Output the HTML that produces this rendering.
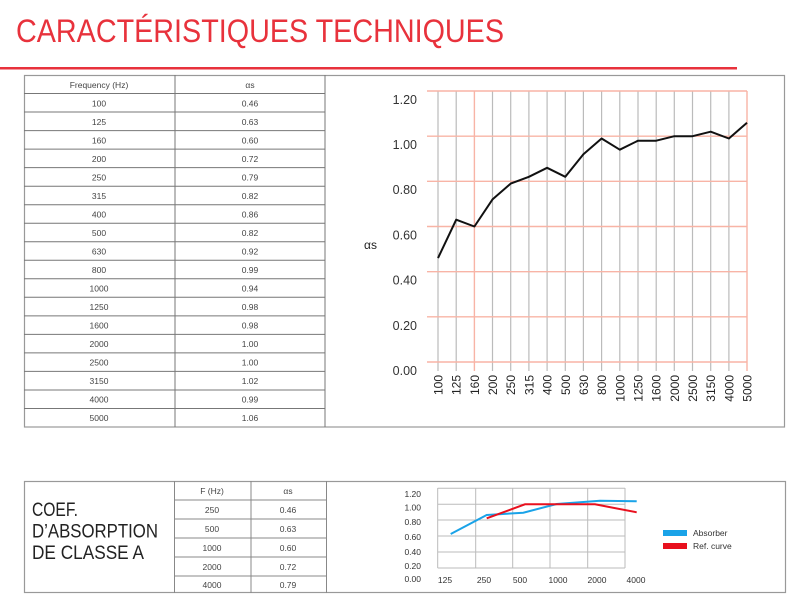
<!DOCTYPE html>
<html><head><meta charset="utf-8"><style>
html,body{margin:0;padding:0;background:#fff;}
svg{display:block;font-family:"Liberation Sans",sans-serif;}
</style></head><body>
<svg width="800" height="600" viewBox="0 0 800 600" xmlns="http://www.w3.org/2000/svg">
<text x="16" y="42" font-size="32" fill="#e8323c" textLength="488" lengthAdjust="spacingAndGlyphs">CARACTÉRISTIQUES TECHNIQUES</text>
<rect x="0" y="67" width="737" height="2.5" fill="#e8323c"/>

<!-- top box -->
<rect x="24.5" y="75.5" width="760" height="351.5" fill="none" stroke="#999" stroke-width="1.2"/>
<g stroke="#777" stroke-width="1">
<line x1="175" y1="75" x2="175" y2="427"/><line x1="325" y1="75" x2="325" y2="427"/>
<line x1="24" y1="93.5" x2="325" y2="93.5"/><line x1="24" y1="112" x2="325" y2="112"/>
<line x1="24" y1="130.6" x2="325" y2="130.6"/><line x1="24" y1="149.1" x2="325" y2="149.1"/>
<line x1="24" y1="167.6" x2="325" y2="167.6"/><line x1="24" y1="186.2" x2="325" y2="186.2"/>
<line x1="24" y1="204.7" x2="325" y2="204.7"/><line x1="24" y1="223.2" x2="325" y2="223.2"/>
<line x1="24" y1="241.7" x2="325" y2="241.7"/><line x1="24" y1="260.3" x2="325" y2="260.3"/>
<line x1="24" y1="278.8" x2="325" y2="278.8"/><line x1="24" y1="297.3" x2="325" y2="297.3"/>
<line x1="24" y1="315.9" x2="325" y2="315.9"/><line x1="24" y1="334.4" x2="325" y2="334.4"/>
<line x1="24" y1="352.9" x2="325" y2="352.9"/><line x1="24" y1="371.4" x2="325" y2="371.4"/>
<line x1="24" y1="390" x2="325" y2="390"/><line x1="24" y1="408.5" x2="325" y2="408.5"/>
</g>
<g font-size="8.5" fill="#444" text-anchor="middle">
<text x="99" y="88">Frequency (Hz)</text><text x="250" y="88">αs</text>
<text x="99" y="106.5">100</text><text x="250" y="106.5">0.46</text>
<text x="99" y="125">125</text><text x="250" y="125">0.63</text>
<text x="99" y="143.5">160</text><text x="250" y="143.5">0.60</text>
<text x="99" y="162">200</text><text x="250" y="162">0.72</text>
<text x="99" y="180.5">250</text><text x="250" y="180.5">0.79</text>
<text x="99" y="199">315</text><text x="250" y="199">0.82</text>
<text x="99" y="217.5">400</text><text x="250" y="217.5">0.86</text>
<text x="99" y="236">500</text><text x="250" y="236">0.82</text>
<text x="99" y="254.5">630</text><text x="250" y="254.5">0.92</text>
<text x="99" y="273">800</text><text x="250" y="273">0.99</text>
<text x="99" y="291.5">1000</text><text x="250" y="291.5">0.94</text>
<text x="99" y="310">1250</text><text x="250" y="310">0.98</text>
<text x="99" y="328.5">1600</text><text x="250" y="328.5">0.98</text>
<text x="99" y="347">2000</text><text x="250" y="347">1.00</text>
<text x="99" y="365.5">2500</text><text x="250" y="365.5">1.00</text>
<text x="99" y="384">3150</text><text x="250" y="384">1.02</text>
<text x="99" y="402.5">4000</text><text x="250" y="402.5">0.99</text>
<text x="99" y="421">5000</text><text x="250" y="421">1.06</text>
</g>

<!-- top chart -->
<g stroke="#bbb" stroke-width="1.2">
<line x1="438" y1="91" x2="438" y2="371"/><line x1="456.2" y1="91" x2="456.2" y2="371"/>
<line x1="492.5" y1="91" x2="492.5" y2="371"/><line x1="510.7" y1="91" x2="510.7" y2="371"/>
<line x1="528.9" y1="91" x2="528.9" y2="371"/><line x1="547.1" y1="91" x2="547.1" y2="371"/>
<line x1="565.3" y1="91" x2="565.3" y2="371"/><line x1="583.4" y1="91" x2="583.4" y2="371"/>
<line x1="601.6" y1="91" x2="601.6" y2="371"/><line x1="619.8" y1="91" x2="619.8" y2="371"/>
<line x1="638" y1="91" x2="638" y2="371"/><line x1="656.2" y1="91" x2="656.2" y2="371"/>
<line x1="674.3" y1="91" x2="674.3" y2="371"/><line x1="692.5" y1="91" x2="692.5" y2="371"/>
<line x1="710.7" y1="91" x2="710.7" y2="371"/><line x1="728.9" y1="91" x2="728.9" y2="371"/>
</g>
<g stroke="#f8b4a6" stroke-width="1.4">
<line x1="427" y1="91" x2="747" y2="91"/><line x1="427" y1="136.2" x2="747" y2="136.2"/>
<line x1="427" y1="181.3" x2="747" y2="181.3"/><line x1="427" y1="226.5" x2="747" y2="226.5"/>
<line x1="427" y1="271.7" x2="747" y2="271.7"/><line x1="427" y1="316.8" x2="747" y2="316.8"/>
<line x1="427" y1="362" x2="747" y2="362"/>
<line x1="474.4" y1="91" x2="474.4" y2="371"/><line x1="747" y1="91" x2="747" y2="371"/>
</g>
<polyline fill="none" stroke="#111" stroke-width="2" stroke-linejoin="round" points="438,258.1 456.2,219.7 474.4,226.5 492.5,199.4 510.7,183.6 528.9,176.8 547.1,167.8 565.3,176.8 583.4,154.3 601.6,138.5 619.8,149.7 638,140.7 656.2,140.7 674.3,136.2 692.5,136.2 710.7,131.7 728.9,138.5 747,122.7"/>
<g font-size="12.5" fill="#333" text-anchor="end">
<text x="417" y="104">1.20</text><text x="417" y="149">1.00</text><text x="417" y="194">0.80</text>
<text x="417" y="239.5">0.60</text><text x="417" y="284.5">0.40</text><text x="417" y="330">0.20</text>
<text x="417" y="375">0.00</text>
</g>
<text x="364" y="249" font-size="12" fill="#222">αs</text>
<g font-size="12" fill="#222" text-anchor="end">
<text transform="translate(442.5,375) rotate(-90)">100</text>
<text transform="translate(460.7,375) rotate(-90)">125</text>
<text transform="translate(478.9,375) rotate(-90)">160</text>
<text transform="translate(497,375) rotate(-90)">200</text>
<text transform="translate(515.2,375) rotate(-90)">250</text>
<text transform="translate(533.4,375) rotate(-90)">315</text>
<text transform="translate(551.6,375) rotate(-90)">400</text>
<text transform="translate(569.8,375) rotate(-90)">500</text>
<text transform="translate(587.9,375) rotate(-90)">630</text>
<text transform="translate(606.1,375) rotate(-90)">800</text>
<text transform="translate(624.3,375) rotate(-90)">1000</text>
<text transform="translate(642.5,375) rotate(-90)">1250</text>
<text transform="translate(660.7,375) rotate(-90)">1600</text>
<text transform="translate(678.8,375) rotate(-90)">2000</text>
<text transform="translate(697,375) rotate(-90)">2500</text>
<text transform="translate(715.2,375) rotate(-90)">3150</text>
<text transform="translate(733.4,375) rotate(-90)">4000</text>
<text transform="translate(751.5,375) rotate(-90)">5000</text>
</g>

<!-- bottom box -->
<rect x="24.5" y="481.5" width="761" height="111" fill="none" stroke="#999" stroke-width="1.2"/>
<g stroke="#888" stroke-width="1">
<line x1="174.5" y1="481" x2="174.5" y2="593"/><line x1="251" y1="481" x2="251" y2="593"/><line x1="326.5" y1="481" x2="326.5" y2="593"/>
<line x1="174" y1="500" x2="326" y2="500"/><line x1="174" y1="519" x2="326" y2="519"/>
<line x1="174" y1="538" x2="326" y2="538"/><line x1="174" y1="557" x2="326" y2="557"/>
<line x1="174" y1="576" x2="326" y2="576"/>
</g>
<g font-size="19" fill="#222">
<text x="32" y="516" textLength="46" lengthAdjust="spacingAndGlyphs">COEF.</text>
<text x="32" y="537.5" textLength="126" lengthAdjust="spacingAndGlyphs">D’ABSORPTION</text>
<text x="32" y="559" textLength="112" lengthAdjust="spacingAndGlyphs">DE CLASSE A</text>
</g>
<g font-size="8.5" fill="#444" text-anchor="middle">
<text x="212" y="494">F (Hz)</text><text x="288" y="494">αs</text>
<text x="212" y="513">250</text><text x="288" y="513">0.46</text>
<text x="212" y="532">500</text><text x="288" y="532">0.63</text>
<text x="212" y="551">1000</text><text x="288" y="551">0.60</text>
<text x="212" y="570">2000</text><text x="288" y="570">0.72</text>
<text x="212" y="588">4000</text><text x="288" y="588">0.79</text>
</g>
<!-- bottom chart -->
<g stroke="#bbb" stroke-width="1">
<line x1="437.7" y1="488.3" x2="625" y2="488.3"/><line x1="437.7" y1="504.3" x2="625" y2="504.3"/>
<line x1="437.7" y1="520" x2="625" y2="520"/><line x1="437.7" y1="536" x2="625" y2="536"/>
<line x1="437.7" y1="552" x2="625" y2="552"/><line x1="437.7" y1="568" x2="625" y2="568"/>
<line x1="437.7" y1="488" x2="437.7" y2="568"/><line x1="475.7" y1="488" x2="475.7" y2="568"/>
<line x1="512.7" y1="488" x2="512.7" y2="568"/><line x1="550" y1="488" x2="550" y2="568"/>
<line x1="587.7" y1="488" x2="587.7" y2="568"/><line x1="625" y1="488" x2="625" y2="568"/>
</g>
<g font-size="8.5" fill="#333" text-anchor="end">
<text x="421" y="497">1.20</text><text x="421" y="510.7">1.00</text><text x="421" y="525">0.80</text>
<text x="421" y="540">0.60</text><text x="421" y="555">0.40</text><text x="421" y="569">0.20</text>
<text x="421" y="582">0.00</text>
</g>
<g font-size="8.5" fill="#333" text-anchor="middle">
<text x="445" y="583">125</text><text x="484" y="583">250</text><text x="520" y="583">500</text>
<text x="558" y="583">1000</text><text x="597" y="583">2000</text><text x="636" y="583">4000</text>
</g>
<polyline fill="none" stroke="#1aa3e8" stroke-width="2" points="450.7,534 486.7,515 523.3,512.7 556.7,504 600,500.7 636.7,501.3"/>
<polyline fill="none" stroke="#e8101e" stroke-width="2" points="486.7,518.3 525,504.3 595,504.3 636.7,512.3"/>
<rect x="663" y="530" width="24" height="6" fill="#1aa3e8"/>
<rect x="663" y="543" width="24" height="6" fill="#e8101e"/>
<text x="693" y="536" font-size="8.5" fill="#333">Absorber</text>
<text x="693" y="549" font-size="8.5" fill="#333">Ref. curve</text>
</svg>
</body></html>
